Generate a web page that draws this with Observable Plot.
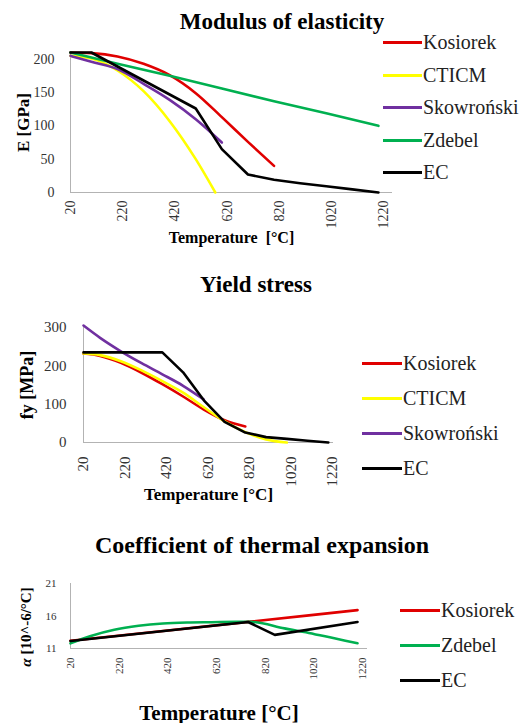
<!DOCTYPE html>
<html><head><meta charset="utf-8">
<script src="https://cdn.jsdelivr.net/npm/d3@7"></script>
<script src="https://cdn.jsdelivr.net/npm/@observablehq/plot@0.6"></script>
<style>
html,body{margin:0;padding:0;background:#fff;}
#wrap{position:relative;width:523px;height:723px;overflow:hidden;color:#222;}
.title{position:absolute;transform:translate(-50%,-50%);font-weight:bold;white-space:nowrap;color:#000;}
.plot{position:absolute;left:0;}
.leg{position:absolute;display:flex;align-items:center;transform:translateY(-50%);font-size:20px;white-space:nowrap;line-height:1;}
.leg .sw{display:inline-block;height:3px;margin-right:1px;}
</style></head><body><div id="wrap"></div>
<script>
// ---------- shared ----------
const tempTicks = [20, 220, 420, 620, 820, 1020, 1220];
const seriesNames = ["Kosiorek", "CTICM", "Skowroński", "Zdebel", "EC"];
const seriesColors = ["#e00000", "#ffff00", "#7030a0", "#00b050", "#000000"];

// ---------- Modulus of elasticity, E [GPa] ----------
const eKosiorekT = [20, 100, 200, 300, 400, 500, 600, 700, 800];
const eKosiorek  = [210, 209, 204, 193, 176, 149, 113, 76, 40];
const eCticmT = [20, 100, 200, 300, 400, 500, 575];
const eCticm  = [205, 201, 183, 152, 107, 50, 0];
const eSkowronskiT = [20, 100, 200, 300, 400, 500, 600];
const eSkowronski  = [205, 196, 185, 163, 139, 110, 75];
const eZdebelT = [20, 200, 400, 600, 800, 1000, 1200];
const eZdebel  = [210, 193, 175, 156, 137, 119, 100];
const eEcT = [20, 100, 200, 300, 400, 500, 600, 700, 800, 900, 1000, 1100, 1200];
const eEc  = [210, 210, 189, 168, 147, 126, 65, 27, 19, 14, 9.5, 4.7, 0];
const eTicks = [0, 50, 100, 150, 200];

// ---------- Yield stress, fy [MPa] ----------
const fyKosiorekT = [20, 100, 200, 300, 400, 500, 600, 700, 800];
const fyKosiorek  = [232, 226, 208, 182, 152, 120, 86, 58, 42];
const fyCticmT = [20, 100, 200, 300, 400, 500, 600, 700, 800, 900, 1000];
const fyCticm  = [232, 228, 212, 188, 160, 130, 92, 55, 27, 8, 0];
const fySkowronskiT = [20, 100, 200, 300, 400, 500, 600];
const fySkowronski  = [305, 273, 238, 207, 178, 148, 112];
const fyEcT = [20, 100, 200, 300, 400, 500, 600, 700, 800, 900, 1000, 1100, 1200];
const fyEc  = [235, 235, 235, 235, 235, 183, 110, 54, 26, 14, 9.4, 4.7, 0];
const fyTicks = [0, 100, 200, 300];

// ---------- Coefficient of thermal expansion [10^-6/°C] ----------
const aKosiorekT = [20, 400, 750, 1000, 1200];
const aKosiorek  = [12.2, 13.7, 15.1, 16.1, 16.9];
const aZdebelT = [20, 100, 200, 300, 400, 500, 600, 700, 760, 900, 1000, 1100, 1200];
const aZdebel  = [11.8, 12.9, 13.9, 14.5, 14.85, 15.0, 15.05, 15.1, 15.1, 14.1, 13.4, 12.6, 11.8];
const aEcT = [20, 750, 860, 1200];
const aEc  = [12.16, 15.08, 13.1, 15.08];
const aTicks = [11, 16, 21];

const rows = (T, V) => T.map((t, i) => ({T: t, V: V[i]}));
const wrap = document.getElementById("wrap");
const FONT = '"Liberation Serif"';
wrap.style.fontFamily = FONT;

function addTitle(text, cx, cy, size) {
  const d = document.createElement("div");
  d.className = "title";
  d.textContent = text;
  d.style.fontFamily = FONT;
  d.style.left = cx + "px"; d.style.top = cy + "px"; d.style.fontSize = size + "px";
  wrap.appendChild(d);
}
function addLegend(idx, x0, lineW, ys) {
  idx.forEach((k, i) => {
    const d = document.createElement("div");
    d.className = "leg";
    d.style.fontFamily = FONT;
    d.style.left = x0 + "px"; d.style.top = ys[i] + "px";
    const sw = document.createElement("span");
    sw.className = "sw"; sw.style.width = lineW + "px"; sw.style.background = seriesColors[k];
    const t = document.createElement("span"); t.textContent = seriesNames[k];
    d.appendChild(sw); d.appendChild(t);
    wrap.appendChild(d);
  });
}

function chart(o) {
  const svg = Plot.plot({
    width: 523, height: o.height,
    marginTop: o.mt, marginBottom: o.mb, marginLeft: o.ml, marginRight: o.mr,
    x: {domain: o.xDomain},
    y: {domain: o.yDomain},
    style: {fontSize: o.tickFont + "px", color: "#333", background: "transparent"},
    marks: [
      Plot.ruleX([o.xDomain[0]], {stroke: "#b3b3b3", strokeWidth: 1}),
      Plot.ruleY([o.yDomain[0]], {stroke: "#b3b3b3", strokeWidth: 1}),
      Plot.axisX({ticks: tempTicks, tickSize: 0, tickRotate: -90, tickPadding: o.xPad,
        tickFormat: d3.format("d"), label: o.xLabel, labelAnchor: "center", labelOffset: o.xLabelOffset}),
      Plot.axisY({ticks: o.yTicks, tickSize: 0, tickPadding: o.yPad, tickFormat: d3.format("d"),
        label: o.yLabel, labelAnchor: "center", labelOffset: o.yLabelOffset}),
      ...o.series.map(s => Plot.line(rows(s.T, s.V), {x: "T", y: "V", stroke: seriesColors[s.k],
        strokeWidth: 2.6, curve: s.curve || "linear"}))
    ]
  });
  svg.classList.add("plot");
  svg.style.top = o.top + "px";
  svg.style.fontFamily = FONT;
  svg.querySelectorAll("text").forEach(t => t.style.fontFamily = FONT);
  const xl = svg.querySelector('[aria-label="x-axis label"]');
  if (xl) {
    xl.setAttribute("font-weight", "bold"); xl.setAttribute("font-size", o.xLabelSize); xl.setAttribute("fill", "#000");
    const t = xl.querySelector("text"); if (t) t.textContent = o.xLabel;
  }
  const yl = svg.querySelector('[aria-label="y-axis label"]');
  if (yl) {
    yl.setAttribute("font-weight", "bold"); yl.setAttribute("font-size", o.yLabelSize); yl.setAttribute("fill", "#000");
    const t = yl.querySelector("text");
    if (t) {
      t.textContent = "";
      const parts = o.yLabelParts || [[o.yLabel, false]];
      parts.forEach(([s, it]) => {
        const ts = document.createElementNS("http://www.w3.org/2000/svg", "tspan");
        ts.textContent = s;
        if (it) ts.setAttribute("font-style", "italic");
        t.appendChild(ts);
      });
    }
    if (o.yLabelShift) yl.setAttribute("transform", `translate(0,${o.yLabelShift}) ${yl.getAttribute("transform") || ""}`);
  }
  wrap.appendChild(svg);
}

// Chart 1
addTitle("Modulus of elasticity", 282, 22, 23);
chart({
  top: 32, height: 218, mt: 20, mb: 58, ml: 70, mr: 131,
  xDomain: [20, 1254], yDomain: [0, 210], yTicks: eTicks, tickFont: 14, xPad: 8, yPad: 16,
  xLabel: "Temperature\u00a0 [°C]", xLabelOffset: 50, xLabelSize: 16,
  yLabel: "E [GPa]", yLabelOffset: 54, yLabelSize: 17,
  series: [
    {k: 0, T: eKosiorekT, V: eKosiorek, curve: "monotone-x"},
    {k: 1, T: eCticmT, V: eCticm, curve: "monotone-x"},
    {k: 2, T: eSkowronskiT, V: eSkowronski, curve: "monotone-x"},
    {k: 3, T: eZdebelT, V: eZdebel},
    {k: 4, T: eEcT, V: eEc}
  ]
});
addLegend([0, 1, 2, 3, 4], 383, 39, [42, 75, 107, 140, 172]);

// Chart 2
addTitle("Yield stress", 256, 285, 23);
chart({
  top: 300, height: 205, mt: 27, mb: 63, ml: 83, mr: 190,
  xDomain: [20, 1225], yDomain: [0, 300], yTicks: fyTicks, tickFont: 15, xPad: 14, yPad: 17,
  xLabel: "Temperature [°C]", xLabelOffset: 57, xLabelSize: 17,
  yLabel: "fy [MPa]", yLabelOffset: 63, yLabelSize: 18,
  series: [
    {k: 0, T: fyKosiorekT, V: fyKosiorek, curve: "monotone-x"},
    {k: 1, T: fyCticmT, V: fyCticm, curve: "monotone-x"},
    {k: 2, T: fySkowronskiT, V: fySkowronski, curve: "monotone-x"},
    {k: 4, T: fyEcT, V: fyEc}
  ]
});
addLegend([0, 1, 2, 4], 362, 40, [363, 398, 433, 468]);

// Chart 3
addTitle("Coefficient of thermal expansion", 262, 545, 24);
chart({
  top: 560, height: 163, mt: 23, mb: 75, ml: 70, mr: 156,
  xDomain: [20, 1241], yDomain: [11, 21], yTicks: aTicks, tickFont: 11, xPad: 9, yPad: 14,
  xLabel: "Temperature [°C]", xLabelOffset: 71, xLabelSize: 21,
  yLabel: "α [10^-6/°C]", yLabelParts: [["α", true], [" [10^-6/°C]", false]],
  yLabelOffset: 50, yLabelSize: 15, yLabelShift: 11,
  series: [
    {k: 0, T: aKosiorekT, V: aKosiorek},
    {k: 3, T: aZdebelT, V: aZdebel, curve: "monotone-x"},
    {k: 4, T: aEcT, V: aEc}
  ]
});
addLegend([0, 3, 4], 400, 40, [610, 645, 680]);
</script></body></html>
